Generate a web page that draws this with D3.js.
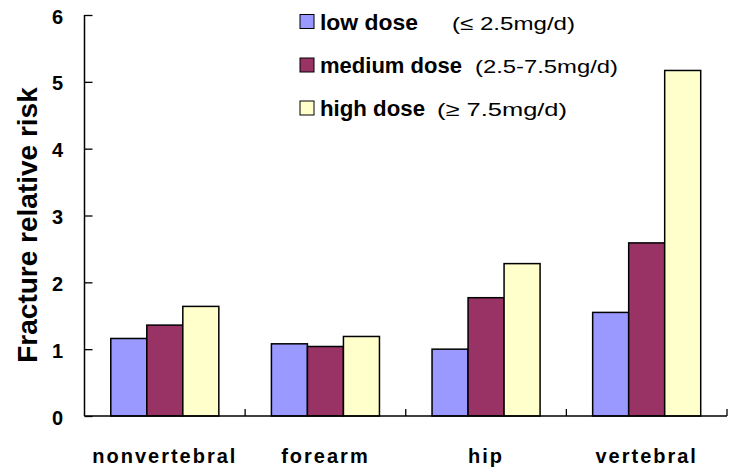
<!DOCTYPE html>
<html>
<head>
<meta charset="utf-8">
<script src="https://cdn.jsdelivr.net/npm/d3@7"></script>
<style>
  html, body { margin: 0; padding: 0; background: #fff; }
  svg { display: block; }
  text { font-family: "Liberation Sans", Arial, sans-serif; }
</style>
</head>
<body>
<svg id="chart" width="749" height="476"></svg>
<script>
// ---- data ----
const categories = ["nonvertebral", "forearm", "hip", "vertebral"];
const seriesNames = ["low dose", "medium dose", "high dose"];
const seriesDoses = ["(\u2264 2.5mg/d)", "(2.5-7.5mg/d)", "(\u2265 7.5mg/d)"];
const lowDose = [1.16, 1.08, 1.00, 1.55];
const mediumDose = [1.36, 1.04, 1.77, 2.59];
const highDose = [1.64, 1.19, 2.28, 5.17];
const yTicks = [0, 1, 2, 3, 4, 5, 6];
const seriesColors = ["#9999FF", "#993366", "#FFFFCC"];
const yTitle = "Fracture relative risk";

const seriesValues = [lowDose, mediumDose, highDose];

(function () {
// ---- layout ----
const svg = d3.select("#chart");
const mLeft = 84.5, mRight = 727, mTop = 15, mBottom = 416;

const x = d3.scaleBand().domain(categories).range([mLeft, mRight]).padding(0);
const xs = d3.scaleBand().domain(d3.range(seriesNames.length))
  .range([0, x.bandwidth()]).paddingInner(0).paddingOuter(0.73);
const y = d3.scaleLinear().domain([0, 6]).range([mBottom, mTop]);

// bars
const rows = [];
categories.forEach((c, ci) => {
  seriesValues.forEach((vals, si) => rows.push({ c, si, v: vals[ci] }));
});
svg.append("g").selectAll("rect").data(rows).join("rect")
  .attr("x", d => x(d.c) + xs(d.si))
  .attr("y", d => y(d.v))
  .attr("width", xs.bandwidth())
  .attr("height", d => y(0) - y(d.v))
  .attr("fill", d => seriesColors[d.si])
  .attr("stroke", "#000")
  .attr("stroke-width", 1.5);

// y axis (ticks pointing inward)
const yAxis = svg.append("g").attr("transform", `translate(${mLeft},0)`)
  .call(d3.axisRight(y).tickValues(yTicks).tickSize(8).tickFormat(""));
yAxis.select(".domain").attr("d", `M0,${mTop}V${mBottom}`).attr("stroke", "#000").attr("stroke-width", 1.5);
yAxis.selectAll(".tick line").attr("stroke", "#000").attr("stroke-width", 1.3);

// y tick labels
svg.append("g").selectAll("text").data(yTicks).join("text")
  .attr("x", 63)
  .attr("y", d => y(d))
  .attr("dy", "0.43em")
  .attr("text-anchor", "end")
  .attr("font-size", 20)
  .attr("font-weight", "bold")
  .text(d => d);

// x axis with inward ticks at category boundaries
const xAxis = svg.append("g").attr("transform", `translate(0,${mBottom})`);
xAxis.append("path").attr("d", `M${mLeft},0H${mRight}`).attr("stroke", "#000").attr("stroke-width", 1.5).attr("fill", "none");
xAxis.selectAll("line").data(categories).join("line")
  .attr("x1", d => x(d) + x.bandwidth()).attr("x2", d => x(d) + x.bandwidth())
  .attr("y1", 0).attr("y2", -7)
  .attr("stroke", "#000").attr("stroke-width", 1.3);

// category labels
svg.append("g").selectAll("text").data(categories).join("text")
  .attr("x", d => x(d) + x.bandwidth() / 2)
  .attr("y", 463)
  .attr("text-anchor", "middle")
  .attr("font-size", 20)
  .attr("font-weight", "bold")
  .attr("letter-spacing", 2)
  .text(d => d);

// y title
svg.append("text")
  .attr("transform", `translate(37,225) rotate(-90)`)
  .attr("text-anchor", "middle")
  .attr("font-size", 28)
  .attr("font-weight", "bold")
  .text(yTitle);

// legend
const legRowY = [21.5, 65, 108];
const nameLens = [98, 142, 105];
const doseX = [452, 475, 437];
const doseLens = [123, 143, 130];
const leg = svg.append("g");
seriesNames.forEach((n, i) => {
  leg.append("rect")
    .attr("x", 300).attr("y", legRowY[i] - 7)
    .attr("width", 14).attr("height", 14)
    .attr("fill", seriesColors[i]).attr("stroke", "#000").attr("stroke-width", 1);
  leg.append("text")
    .attr("x", 320).attr("y", legRowY[i] + 8)
    .attr("font-size", 22).attr("font-weight", "bold")
    .attr("textLength", nameLens[i]).attr("lengthAdjust", "spacingAndGlyphs")
    .text(n);
  leg.append("text")
    .attr("x", doseX[i]).attr("y", legRowY[i] + 8)
    .attr("font-size", 19)
    .attr("textLength", doseLens[i]).attr("lengthAdjust", "spacingAndGlyphs")
    .text(seriesDoses[i]);
});
})();
</script>
</body>
</html>
